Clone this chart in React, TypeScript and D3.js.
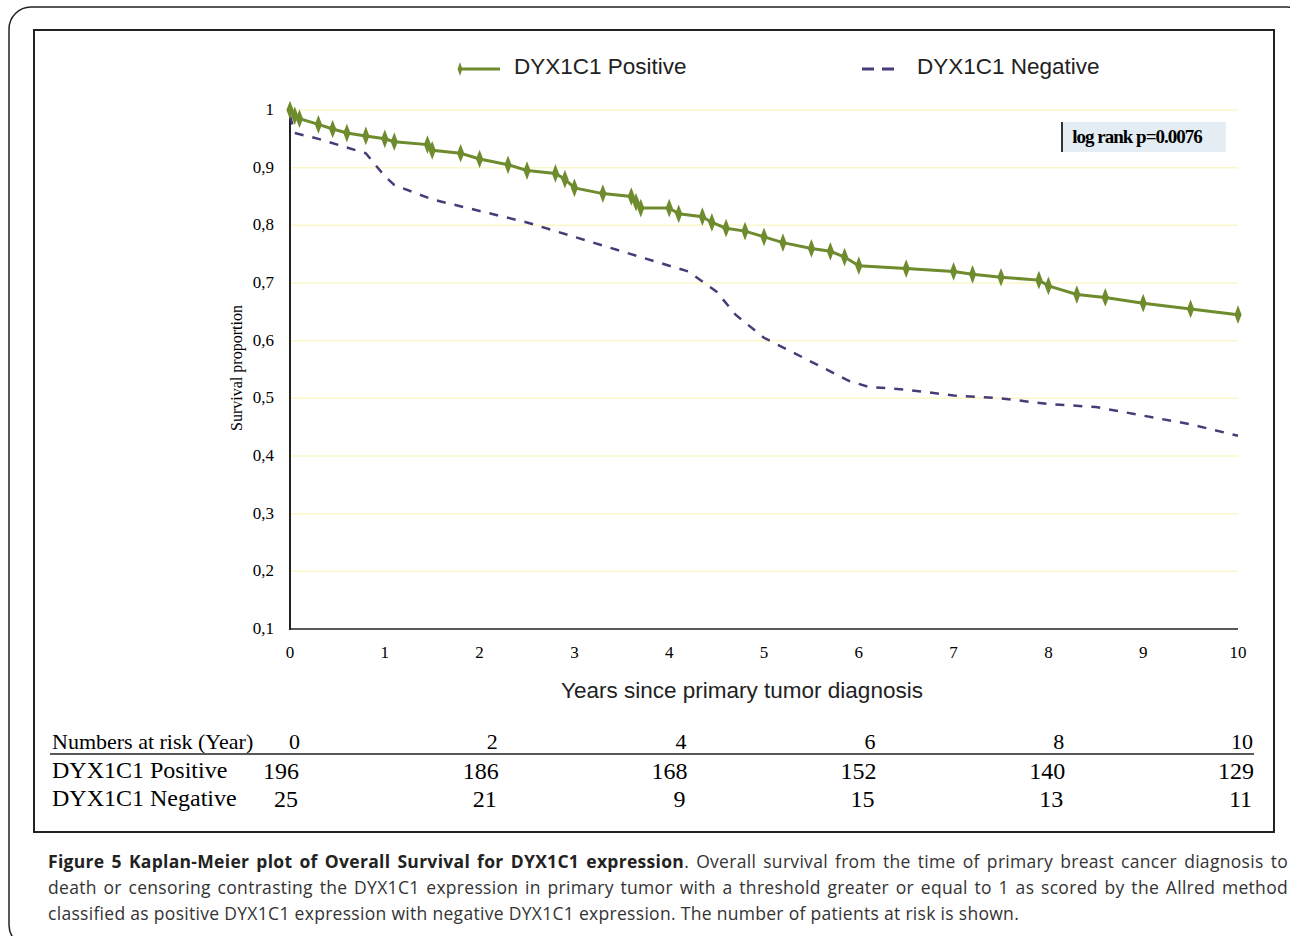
import * as d3 from "d3";

const posX = [0, 0.05, 0.1, 0.3, 0.45, 0.6, 0.8, 1.0, 1.1, 1.45, 1.5, 1.8, 2.0, 2.3, 2.5, 2.8, 2.9, 3.0, 3.3, 3.6, 3.65, 3.7, 4.0, 4.1, 4.35, 4.45, 4.6, 4.8, 5.0, 5.2, 5.5, 5.7, 5.85, 6.0, 6.5, 7.0, 7.2, 7.5, 7.9, 8.0, 8.3, 8.6, 9.0, 9.5, 10];
const posY = [1, 0.99, 0.985, 0.975, 0.967, 0.96, 0.955, 0.95, 0.945, 0.94, 0.93, 0.925, 0.915, 0.905, 0.895, 0.89, 0.88, 0.865, 0.855, 0.85, 0.84, 0.83, 0.83, 0.82, 0.815, 0.805, 0.795, 0.79, 0.78, 0.77, 0.76, 0.755, 0.745, 0.73, 0.725, 0.72, 0.715, 0.71, 0.705, 0.695, 0.68, 0.675, 0.665, 0.655, 0.645];
const negX = [0, 0.05, 0.3, 0.6, 0.8, 1.0, 1.1, 1.5, 2.0, 2.5, 3.0, 3.5, 4.0, 4.2, 4.5, 4.7, 5.0, 5.3, 5.6, 5.9, 6.1, 6.5, 7.0, 7.5, 8.0, 8.5, 9.0, 9.5, 10];
const negY = [0.99, 0.96, 0.95, 0.935, 0.925, 0.885, 0.87, 0.845, 0.825, 0.805, 0.78, 0.755, 0.73, 0.72, 0.685, 0.645, 0.605, 0.58, 0.555, 0.53, 0.52, 0.515, 0.505, 0.5, 0.49, 0.485, 0.47, 0.455, 0.435];
const yTicks = [0.1, 0.2, 0.3, 0.4, 0.5, 0.6, 0.7, 0.8, 0.9, 1];
const xTicks = [0, 1, 2, 3, 4, 5, 6, 7, 8, 9, 10];
const riskYears = [0, 2, 4, 6, 8, 10];
const riskPos = [196, 186, 168, 152, 140, 129];
const riskNeg = [25, 21, 9, 15, 13, 11];

export default function App() {
  const x = d3.scaleLinear().domain([0, 10]).range([290, 1238]);
  const y = d3.scaleLinear().domain([0.1, 1]).range([629, 110]);
  const pos = posX.map((v, i) => [v, posY[i]] as [number, number]);
  const neg = negX.map((v, i) => [v, negY[i]] as [number, number]);
  const line = d3.line<[number, number]>().x((d) => x(d[0])).y((d) => y(d[1]));
  const rx = d3.scaleLinear().domain([0, 10]).range([296, 1240]);
  const serif = "'Liberation Serif', 'DejaVu Serif', serif";
  const sans = "'Liberation Sans', Arial, sans-serif";
  const green = "#6e8b2e";
  const purple = "#4b3a78";
  return (
    <svg width={1290} height={936} style={{ position: "absolute", left: 0, top: 0 }}>
      <rect x={9} y={7} width={1300} height={940} rx={22} fill="none" stroke="#222" strokeWidth={1.5} />
      <rect x={34} y={30} width={1240} height={802} fill="white" stroke="#222" strokeWidth={2} />
      {yTicks.map((t) => (
        <g key={t}>
          {t > 0.1 && <line x1={290} x2={1238} y1={y(t)} y2={y(t)} stroke="#fbf7c8" strokeWidth={1.5} />}
          <text x={274} y={y(t) + 5} textAnchor="end" fontFamily={serif} fontSize={17}>{String(t).replace(".", ",")}</text>
        </g>
      ))}
      <line x1={290} x2={290} y1={108} y2={630} stroke="#222" strokeWidth={2} />
      <line x1={289} x2={1238} y1={629} y2={629} stroke="#222" strokeWidth={1.5} />
      {xTicks.map((t) => (
        <text key={t} x={x(t)} y={658} textAnchor="middle" fontFamily={serif} fontSize={17}>{t}</text>
      ))}
      <text transform="translate(242,368) rotate(-90)" textAnchor="middle" fontFamily={serif} fontSize={16}>Survival proportion</text>
      <text x={742} y={698} textAnchor="middle" fontFamily={sans} fontSize={22.5} fill="#222">Years since primary tumor diagnosis</text>
      <path d={line(neg) ?? ""} fill="none" stroke={purple} strokeWidth={2.5} strokeDasharray="9,9" />
      <path d={line(pos) ?? ""} fill="none" stroke={green} strokeWidth={3} />
      {pos.map((d, i) => (
        <path key={i} d={d3.symbol(d3.symbolDiamond, 70)() ?? ""} transform={`translate(${x(d[0])},${y(d[1])}) scale(0.8,1.2)`} fill={green} />
      ))}
      <line x1={458} x2={500} y1={69} y2={69} stroke={green} strokeWidth={3} />
      <path d={d3.symbol(d3.symbolDiamond, 40)() ?? ""} transform="translate(460,69) scale(0.7,1.2)" fill={green} />
      <text x={514} y={74} fontFamily={sans} fontSize={22.5} fill="#222">DYX1C1 Positive</text>
      <line x1={862} x2={902} y1={69} y2={69} stroke={purple} strokeWidth={3} strokeDasharray="12,8" />
      <text x={917} y={74} fontFamily={sans} fontSize={22.5} fill="#222">DYX1C1 Negative</text>
      <rect x={1062} y={122} width={164} height={30} fill="#e4edf4" />
      <line x1={1062} x2={1062} y1={122} y2={152} stroke="#333" strokeWidth={2} />
      <text x={1137} y={143} textAnchor="middle" fontFamily={serif} fontSize={19} fontWeight="bold" letterSpacing={-1}>log rank p=0.0076</text>
      <text x={52} y={749} fontFamily={serif} fontSize={22}>Numbers at risk (Year)</text>
      <line x1={50} x2={1254} y1={754} y2={754} stroke="#222" strokeWidth={1.5} />
      <text x={52} y={778} fontFamily={serif} fontSize={24}>DYX1C1 Positive</text>
      <text x={52} y={806} fontFamily={serif} fontSize={24}>DYX1C1 Negative</text>
      {riskYears.map((yr, i) => (
        <g key={yr} fontFamily={serif} textAnchor={i === 0 ? "start" : "end"}>
          <text x={i === 0 ? 289 : rx(yr) + 13} y={749} fontSize={22}>{yr}</text>
          <text x={i === 0 ? 263 : rx(yr) + 14} y={779} fontSize={24}>{riskPos[i]}</text>
          <text x={i === 0 ? 274 : rx(yr) + 12} y={807} fontSize={24}>{riskNeg[i]}</text>
        </g>
      ))}
      <foreignObject x={48} y={848} width={1240} height={85}>
        <div style={{ fontFamily: "'Open Sans', sans-serif", fontSize: 17.5, lineHeight: "26px", color: "#333", textAlign: "justify", letterSpacing: "0.3px" }}>
          <b style={{ color: "#222" }}>Figure 5 Kaplan-Meier plot of Overall Survival for DYX1C1 expression</b>. Overall survival from the time of primary breast cancer diagnosis to death or censoring contrasting the DYX1C1 expression in primary tumor with a threshold greater or equal to 1 as scored by the Allred method classified as positive DYX1C1 expression with negative DYX1C1 expression. The number of patients at risk is shown.
        </div>
      </foreignObject>
    </svg>
  );
}
